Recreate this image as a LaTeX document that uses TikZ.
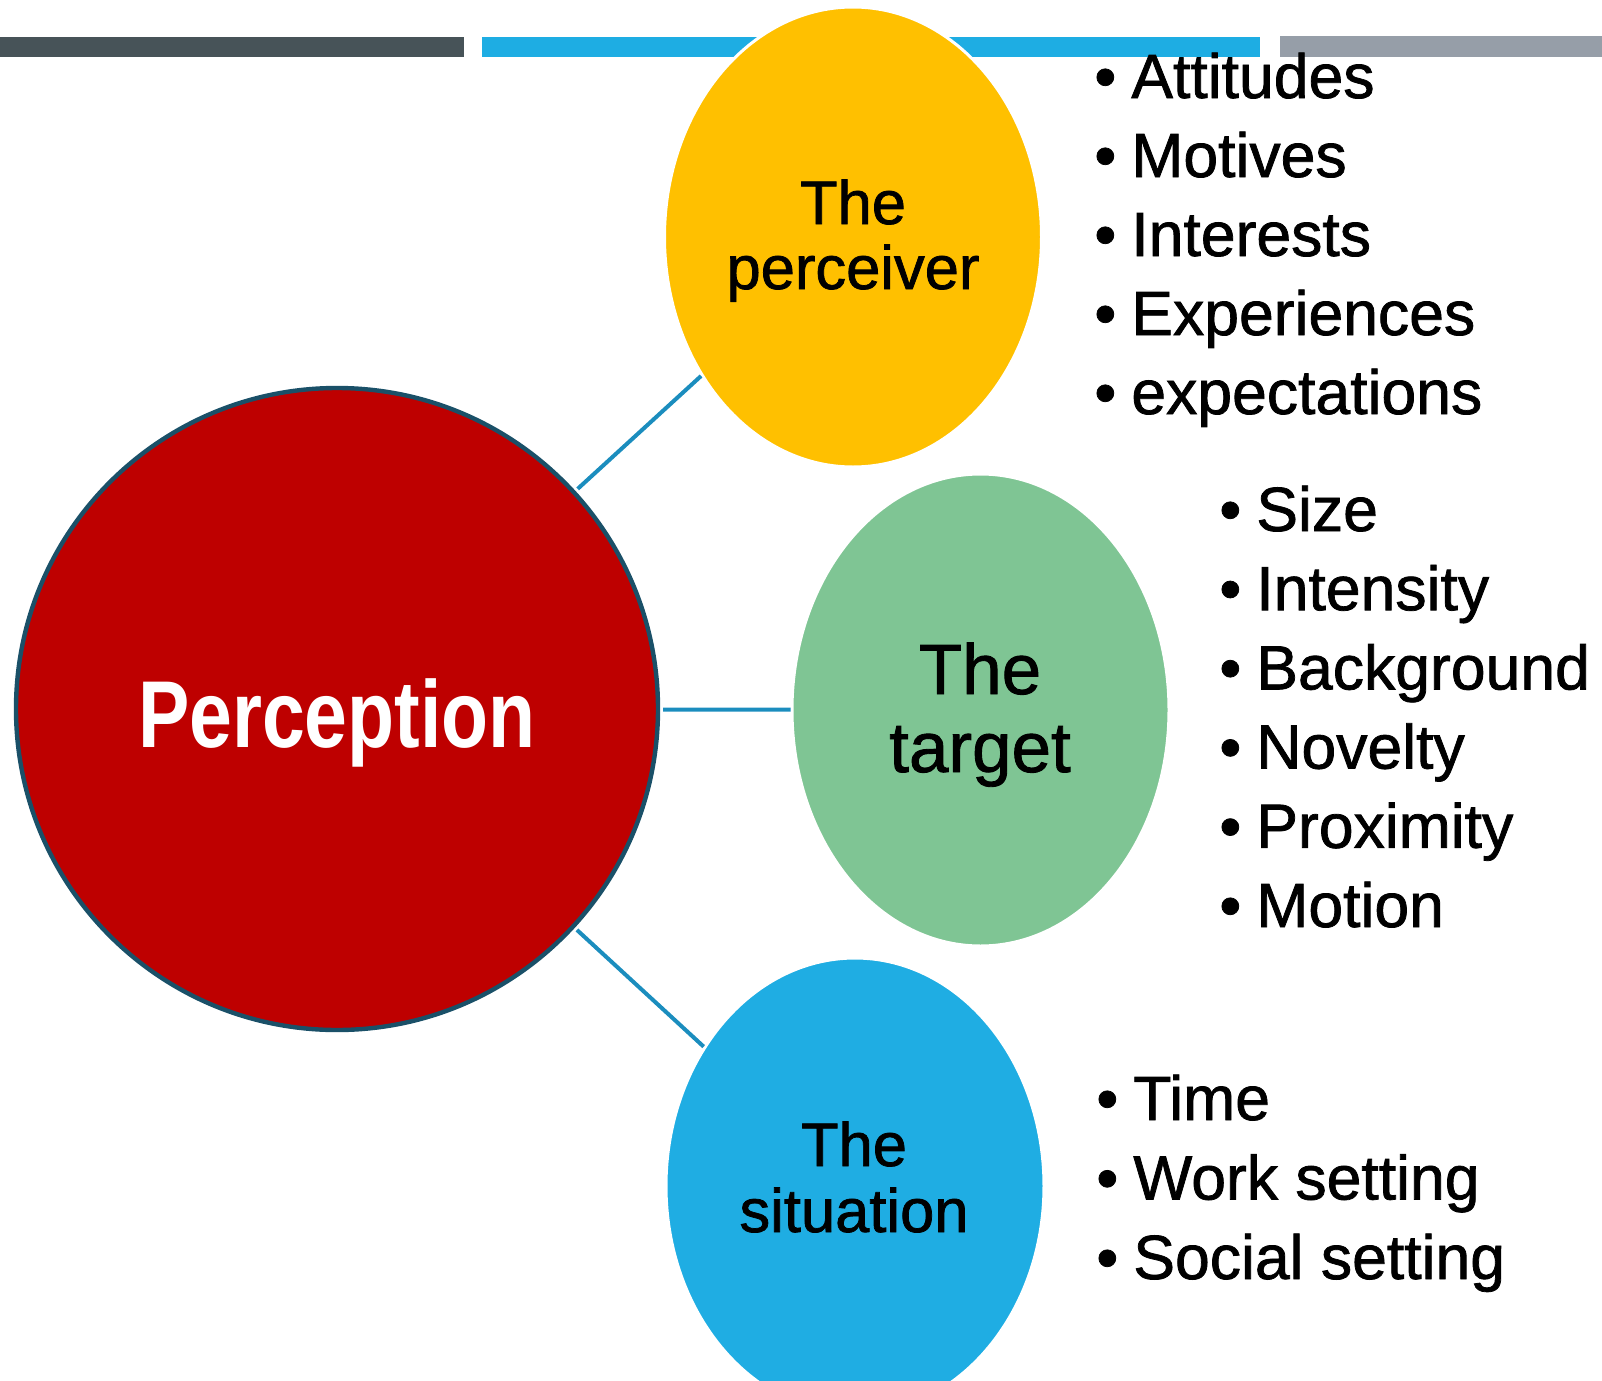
\documentclass[tikz,border=0pt]{standalone}
\usepackage{fontspec}
\usetikzlibrary{shapes.geometric}
\setmainfont{Liberation Sans}[FakeBold=1.2]
\newfontfamily\hubfont[FakeStretch=0.81]{Liberation Sans}

\definecolor{barDark}{HTML}{475358}
\definecolor{barBlue}{HTML}{1EADE3}
\definecolor{barGray}{HTML}{969EA8}
\definecolor{hubRed}{HTML}{BE0000}
\definecolor{hubEdge}{HTML}{1A5068}
\definecolor{linkBlue}{HTML}{1B8DBE}
\definecolor{perceiverFill}{HTML}{FFC000}
\definecolor{targetFill}{HTML}{7FC594}
\definecolor{situationFill}{HTML}{1FADE3}

% bullet followed by the hanging indent
\newcommand{\itembullet}{\makebox[18.5pt][l]{•}}

\begin{document}
\begin{tikzpicture}[x=0.5pt,y=-0.5pt,
  hub/.style={circle, fill=hubRed, draw=hubEdge, line width=2.2pt,
    minimum size=321pt, inner sep=0pt},
  factor/.style={ellipse, draw=white, line width=1.5pt, inner sep=0pt},
  link/.style={draw=linkBlue, line width=2pt},
  hubtext/.style={anchor=base, inner sep=0pt, text=white,
    font=\hubfont\bfseries\fontsize{47.5}{50}\selectfont},
  factortext/.style={anchor=base, inner sep=0pt, font=\fontsize{30.75}{32}\selectfont},
  targettext/.style={anchor=base, inner sep=0pt, font=\fontsize{35.5}{37}\selectfont},
  itemtext/.style={anchor=base west, inner sep=0pt, font=\fontsize{31.25}{33}\selectfont}]
\useasboundingbox (0,0) rectangle (1602,1381);

% header bars
\fill[barDark] (0,37) rectangle (464,57);
\fill[barBlue] (482,37) rectangle (1260,57);
\fill[barGray] (1280,36) rectangle (1602,57);

% central circle and the three factors
\node[hub] (perception) at (337,709) {};
\node[factor, fill=perceiverFill, minimum width=188.5pt, minimum height=230pt]
  (perceiver) at (853,237) {};
\node[factor, fill=targetFill, minimum width=188.5pt, minimum height=236pt]
  (target) at (980.5,710) {};
\node[factor, fill=situationFill, minimum width=189pt, minimum height=228pt]
  (situation) at (855,1186) {};

% connectors, leaving a small gap at the central circle
\draw[link, shorten <=1.5pt] (perception) -- (perceiver);
\draw[link, shorten <=1.5pt] (perception) -- (target);
\draw[link, shorten <=1.5pt] (perception) -- (situation);

% labels
\node[hubtext] (perception-label) at (337,747.5) {Perception};
\node[factortext] (perceiver-l1) at (853,224) {The};
\node[factortext] (perceiver-l2) at (853,289) {perceiver};
\node[targettext] (target-l1) at (980,694) {The};
\node[targettext] (target-l2) at (980,772) {target};
\node[factortext] (situation-l1) at (854,1166) {The};
\node[factortext] (situation-l2) at (854,1232) {situation};

% bullet lists
\foreach \w [count=\i] in {Attitudes,Motives,Interests,Experiences,expectations}
  \node[itemtext] (perceiver-item-\i) at (1094,{98+79*(\i-1)}) {\itembullet\w};
\foreach \w [count=\i] in {Size,Intensity,Background,Novelty,Proximity,Motion}
  \node[itemtext] (target-item-\i) at (1219,{531+79.2*(\i-1)}) {\itembullet\w};
\foreach \w [count=\i] in {Time,{Work setting},{Social setting}}
  \node[itemtext] (situation-item-\i) at (1096,{1120+79.5*(\i-1)}) {\itembullet\w};
\end{tikzpicture}
\end{document}
